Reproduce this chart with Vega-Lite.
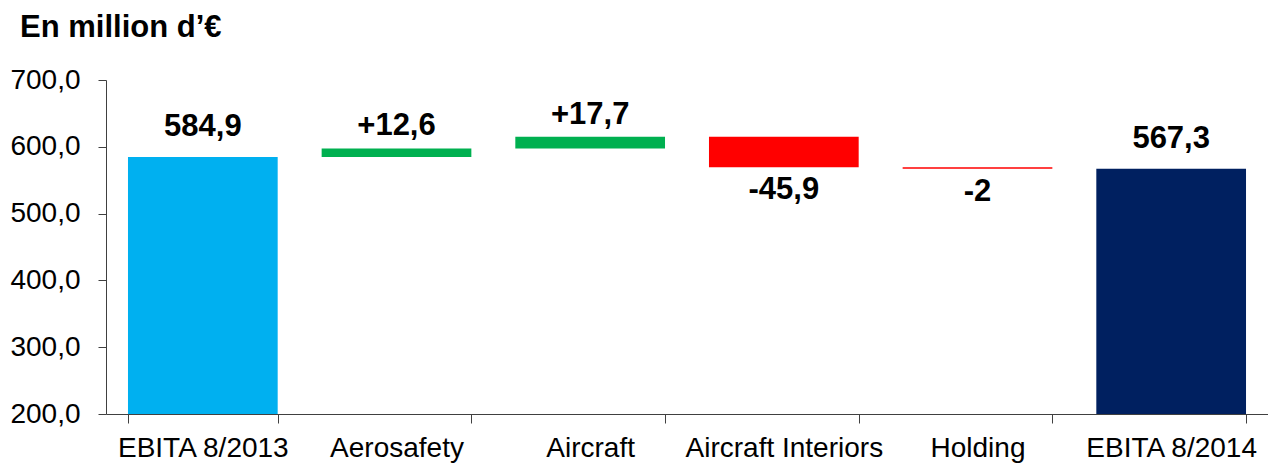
{
  "$schema": "https://vega.github.io/schema/vega-lite/v6.json",
  "width": 1162,
  "height": 334,
  "autosize": "none",
  "padding": {"left": 106, "top": 80, "right": 0, "bottom": 50},
  "background": "white",
  "title": {
    "text": "En million d’€",
    "anchor": "start",
    "frame": "group",
    "dx": -86,
    "offset": 22,
    "fontSize": 31,
    "fontWeight": "bold",
    "font": "Liberation Sans",
    "color": "black"
  },
  "config": {
    "view": {"stroke": null},
    "font": "Liberation Sans",
    "axisX": {
      "labelAngle": 0,
      "labelFontSize": 28,
      "labelColor": "black",
      "labelFont": "Liberation Sans",
      "labelLimit": 0,
      "tickBand": "extent",
      "tickSize": 9,
      "tickColor": "#404040",
      "domainColor": "#404040",
      "labelPadding": 11,
      "grid": false
    },
    "axisY": {
      "labelFontSize": 28,
      "labelColor": "black",
      "labelFont": "Liberation Sans",
      "tickSize": 8,
      "tickColor": "#404040",
      "domainColor": "#404040",
      "labelPadding": 18,
      "grid": false
    }
  },
  "data": {
    "values": [
      {"cat": "EBITA 8/2013", "start": 0, "end": 584.9, "label": "584,9", "kind": "total1"},
      {"cat": "Aerosafety", "start": 584.9, "end": 597.5, "label": "+12,6", "kind": "up"},
      {"cat": "Aircraft", "start": 597.5, "end": 615.2, "label": "+17,7", "kind": "up"},
      {"cat": "Aircraft Interiors", "start": 615.2, "end": 569.3, "label": "-45,9", "kind": "down"},
      {"cat": "Holding", "start": 569.3, "end": 567.3, "label": "-2", "kind": "down"},
      {"cat": "EBITA 8/2014", "start": 0, "end": 567.3, "label": "567,3", "kind": "total2"}
    ]
  },
  "encoding": {
    "x": {
      "field": "cat",
      "type": "nominal",
      "sort": null,
      "title": null,
      "scale": {"paddingInner": 0.227, "paddingOuter": 0.1135}
    }
  },
  "layer": [
    {
      "mark": {"type": "bar", "clip": true},
      "encoding": {
        "y": {
          "field": "start",
          "type": "quantitative",
          "title": null,
          "scale": {"domain": [200, 700], "nice": false, "zero": false},
          "axis": {
            "values": [200, 300, 400, 500, 600, 700],
            "labelExpr": "replace(format(datum.value, '.1f'), '.', ',')"
          }
        },
        "y2": {"field": "end"},
        "color": {
          "field": "kind",
          "type": "nominal",
          "legend": null,
          "scale": {"domain": ["total1", "up", "down", "total2"], "range": ["#00B0F0", "#00B050", "#FF0000", "#002060"]}
        }
      }
    },
    {
      "transform": [{"filter": "datum.kind === 'total1' || datum.kind === 'total2'"}],
      "mark": {"type": "text", "fontSize": 31, "fontWeight": "bold", "baseline": "alphabetic", "dy": -21, "color": "black"},
      "encoding": {
        "y": {"field": "end", "type": "quantitative", "title": null},
        "text": {"field": "label"}
      }
    },
    {
      "transform": [{"filter": "datum.kind === 'up'"}],
      "mark": {"type": "text", "fontSize": 31, "fontWeight": "bold", "baseline": "alphabetic", "dy": -13, "color": "black"},
      "encoding": {
        "y": {"field": "end", "type": "quantitative", "title": null},
        "text": {"field": "label"}
      }
    },
    {
      "transform": [{"filter": "datum.kind === 'down'"}],
      "mark": {"type": "text", "fontSize": 31, "fontWeight": "bold", "baseline": "alphabetic", "dy": 32, "color": "black"},
      "encoding": {
        "y": {"field": "end", "type": "quantitative", "title": null},
        "text": {"field": "label"}
      }
    }
  ]
}
